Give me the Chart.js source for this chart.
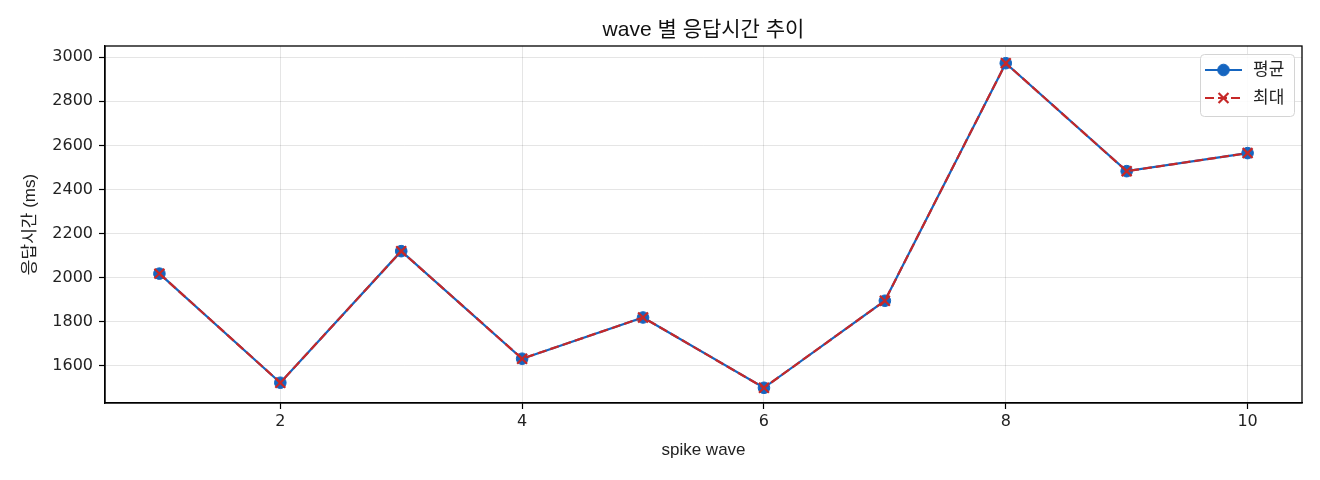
<!DOCTYPE html>
<html lang="ko">
<head>
<meta charset="utf-8">
<title>wave 별 응답시간 추이</title>
<script src="https://cdn.jsdelivr.net/npm/chart.js@4.4.1/dist/chart.umd.min.js"></script>
<style>
  html, body { margin: 0; padding: 0; background: #fff; }
  #wrap { width: 1320px; height: 480px; }
</style>
</head>
<body>
<div id="wrap"><canvas id="chart"></canvas></div>
<script>
const FONT = "'Liberation Sans', 'Noto Sans CJK KR', sans-serif";
const TICK_FONT = "'DejaVu Sans', 'Noto Sans CJK KR', sans-serif";

// data
const waves = [1, 2, 3, 4, 5, 6, 7, 8, 9, 10];
const meanMs = [2018, 1523, 2120, 1632, 1819, 1500, 1895, 2973, 2483, 2565];
const maxMs = [2018, 1523, 2120, 1632, 1819, 1500, 1895, 2973, 2483, 2565];
const xTicks = [2, 4, 6, 8, 10];
const yTicks = [1600, 1800, 2000, 2200, 2400, 2600, 2800, 3000];
const chartTitle = 'wave 별 응답시간 추이';

const BLUE = '#1565c0';
const RED = '#c62828';

function toPoints(values) {
  return waves.map((w, i) => ({ x: w, y: values[i] }));
}

// black frame round the plot area, title centred over it
const frame = {
  id: 'frame',
  afterDatasetsDraw(chart) {
    const { ctx, chartArea: a } = chart;
    ctx.save();
    ctx.strokeStyle = '#000';
    ctx.lineWidth = 1.3;
    ctx.strokeRect(a.left, a.top, a.right - a.left, a.bottom - a.top);
    ctx.fillStyle = '#111';
    ctx.font = '21px ' + FONT;
    ctx.textAlign = 'center';
    ctx.textBaseline = 'middle';
    ctx.fillText(chartTitle, (a.left + a.right) / 2, a.top - 16);
    ctx.restore();
  }
};

// legend drawn inside the plot, top right
const innerLegend = {
  id: 'innerLegend',
  afterDraw(chart) {
    const { ctx, chartArea: a } = chart;
    const sets = chart.data.datasets;
    const boxW = 94, rowH = 28;
    const boxH = sets.length * rowH + 6;
    const x0 = a.right - 8 - boxW, y0 = a.top + 8;
    ctx.save();
    ctx.fillStyle = 'rgba(255,255,255,0.85)';
    ctx.strokeStyle = '#d4d4d4';
    ctx.lineWidth = 1;
    ctx.beginPath();
    ctx.roundRect(x0 + 0.5, y0 + 0.5, boxW, boxH, 4);
    ctx.fill();
    ctx.stroke();
    sets.forEach((ds, i) => {
      const cy = y0 + 16 + i * rowH;
      const lx = x0 + 5;
      ctx.strokeStyle = ds.borderColor;
      ctx.lineWidth = ds.borderWidth;
      ctx.setLineDash(ds.borderDash || []);
      ctx.beginPath();
      ctx.moveTo(lx, cy);
      ctx.lineTo(lx + 37, cy);
      ctx.stroke();
      ctx.setLineDash([]);
      ctx.fillStyle = ds.pointBackgroundColor || ds.borderColor;
      ctx.strokeStyle = ds.pointBorderColor;
      ctx.lineWidth = ds.pointBorderWidth;
      Chart.helpers.drawPoint(ctx, {
        pointStyle: ds.pointStyle,
        radius: ds.pointRadius,
        borderWidth: ds.pointBorderWidth
      }, lx + 18.5, cy);
      ctx.fillStyle = '#222';
      ctx.font = '17px ' + FONT;
      ctx.textBaseline = 'middle';
      ctx.fillText(ds.label, lx + 48, cy);
    });
    ctx.restore();
  }
};

Chart.defaults.font.family = FONT;
Chart.defaults.color = '#222';

new Chart(document.getElementById('chart'), {
  type: 'line',
  data: {
    datasets: [
      {
        label: '평균',
        data: toPoints(meanMs),
        order: 2,
        borderColor: BLUE,
        backgroundColor: BLUE,
        borderWidth: 2.2,
        pointStyle: 'circle',
        pointRadius: 5.8,
        pointBorderWidth: 1,
        pointBackgroundColor: BLUE,
        pointBorderColor: BLUE
      },
      {
        label: '최대',
        data: toPoints(maxMs),
        order: 1,
        borderColor: RED,
        backgroundColor: RED,
        borderWidth: 2.2,
        borderDash: [9, 4],
        pointStyle: 'crossRot',
        pointRadius: 7,
        pointBorderWidth: 2.2,
        pointBorderColor: RED
      }
    ]
  },
  options: {
    responsive: true,
    maintainAspectRatio: false,
    animation: false,
    layout: { padding: { left: 0, right: 18, top: 46, bottom: 0 } },
    plugins: {
      legend: { display: false },
      tooltip: { enabled: false },
      title: { display: false }
    },
    scales: {
      x: {
        type: 'linear',
        min: 0.55,
        max: 10.45,
        afterBuildTicks(scale) { scale.ticks = xTicks.map(v => ({ value: v })); },
        afterFit(scale) { scale.height = 77; },
        ticks: { font: { size: 16, family: TICK_FONT }, color: '#222', padding: 3, callback: v => String(v) },
        grid: { color: 'rgba(0,0,0,0.1)', tickColor: '#000', tickLength: 6, tickWidth: 1.2 },
        border: { color: '#000', width: 1.3 },
        title: {
          display: true,
          text: 'spike wave',
          color: '#222',
          font: { size: 17, lineHeight: 1.2 },
          padding: { top: 19, bottom: 19 }
        }
      },
      y: {
        type: 'linear',
        min: 1431,
        max: 3051,
        afterBuildTicks(scale) { scale.ticks = yTicks.map(v => ({ value: v })); },
        afterFit(scale) { scale.width = 105; },
        ticks: { font: { size: 16, family: TICK_FONT }, color: '#222', padding: 6, callback: v => String(v) },
        grid: { color: 'rgba(0,0,0,0.1)', tickColor: '#000', tickLength: 6, tickWidth: 1.2 },
        border: { color: '#000', width: 1.3 },
        title: {
          display: true,
          text: '응답시간 (ms)',
          color: '#222',
          font: { size: 17, lineHeight: 1.2 },
          padding: { top: 20, bottom: 20 }
        }
      }
    }
  },
  plugins: [frame, innerLegend]
});
</script>
</body>
</html>
